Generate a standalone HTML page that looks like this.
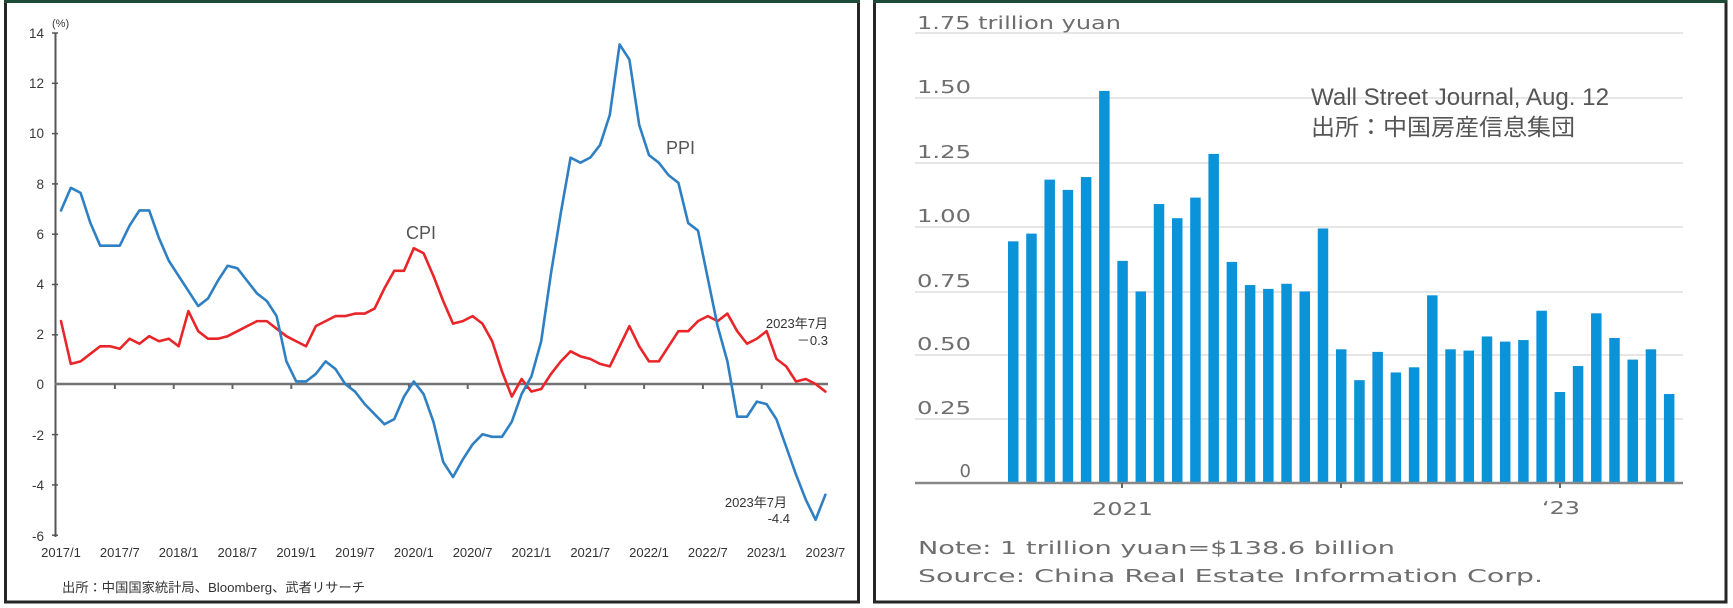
<!DOCTYPE html>
<html><head><meta charset="utf-8"><style>
html,body{margin:0;padding:0;background:#fff;}
svg{display:block;}
</style></head><body>
<svg width="1733" height="608" viewBox="0 0 1733 608" xmlns="http://www.w3.org/2000/svg">
<rect width="1733" height="608" fill="#fff"/>
<!-- LEFT PANEL FRAME -->
<rect x="5.5" y="1.5" width="853" height="600.5" fill="none" stroke="#262626" stroke-width="3"/>
<line x1="4" y1="1.5" x2="860" y2="1.5" stroke="#1d4b37" stroke-width="3"/>
<!-- RIGHT PANEL FRAME -->
<rect x="874.5" y="1.5" width="851.5" height="600.5" fill="none" stroke="#262626" stroke-width="3"/>
<line x1="873" y1="1.5" x2="1727" y2="1.5" stroke="#1d4b37" stroke-width="3"/>

<!-- LEFT CHART -->
<g font-family="'Liberation Sans','Noto Sans CJK JP',sans-serif" fill="#3a3a3a">
  <text x="52" y="27" font-size="11">(%)</text>
  <g font-size="13.5" text-anchor="end">
    <text x="44" y="38">14</text>
    <text x="44" y="88">12</text>
    <text x="44" y="138">10</text>
    <text x="44" y="189">8</text>
    <text x="44" y="239">6</text>
    <text x="44" y="289">4</text>
    <text x="44" y="339">2</text>
    <text x="44" y="389">0</text>
    <text x="44" y="440">-2</text>
    <text x="44" y="490">-4</text>
    <text x="44" y="541">-6</text>
  </g>
  <g font-size="13" text-anchor="middle" fill="#333">
    <text x="61" y="557">2017/1</text>
    <text x="119.8" y="557">2017/7</text>
    <text x="178.6" y="557">2018/1</text>
    <text x="237.4" y="557">2018/7</text>
    <text x="296.2" y="557">2019/1</text>
    <text x="355" y="557">2019/7</text>
    <text x="413.8" y="557">2020/1</text>
    <text x="472.6" y="557">2020/7</text>
    <text x="531.4" y="557">2021/1</text>
    <text x="590.2" y="557">2021/7</text>
    <text x="649" y="557">2022/1</text>
    <text x="707.8" y="557">2022/7</text>
    <text x="766.6" y="557">2023/1</text>
    <text x="825.4" y="557">2023/7</text>
  </g>
  <text x="62" y="592" font-size="13" textLength="303" lengthAdjust="spacingAndGlyphs" fill="#333">出所：中国国家統計局、Bloomberg、武者リサーチ</text>
  <text x="406" y="239" font-size="18" fill="#555">CPI</text>
  <text x="666" y="154" font-size="18" fill="#555">PPI</text>
  <g font-size="13" text-anchor="end" fill="#333">
    <text x="828" y="328">2023年7月</text>
    <text x="828" y="345">－0.3</text>
    <text x="787" y="507">2023年7月</text>
    <text x="790" y="523">-4.4</text>
  </g>
</g>
<!-- axes -->
<line x1="55.5" y1="33" x2="55.5" y2="537" stroke="#555" stroke-width="2"/>
<g stroke="#555" stroke-width="1.5">
  <line x1="52" y1="33" x2="58" y2="33"/><line x1="52" y1="83.3" x2="58" y2="83.3"/>
  <line x1="52" y1="133.6" x2="58" y2="133.6"/><line x1="52" y1="183.9" x2="58" y2="183.9"/>
  <line x1="52" y1="234.2" x2="58" y2="234.2"/><line x1="52" y1="284.5" x2="58" y2="284.5"/>
  <line x1="52" y1="334.8" x2="58" y2="334.8"/><line x1="52" y1="434.6" x2="58" y2="434.6"/>
  <line x1="52" y1="484.9" x2="58" y2="484.9"/><line x1="52" y1="535.2" x2="58" y2="535.2"/>
</g>
<line x1="55" y1="384" x2="828" y2="384" stroke="#737373" stroke-width="2.5"/>
<g stroke="#666" stroke-width="2">
  <line x1="114.9" y1="384" x2="114.9" y2="389"/><line x1="173.7" y1="384" x2="173.7" y2="389"/>
  <line x1="232.5" y1="384" x2="232.5" y2="389"/><line x1="291.3" y1="384" x2="291.3" y2="389"/>
  <line x1="350.1" y1="384" x2="350.1" y2="389"/><line x1="408.9" y1="384" x2="408.9" y2="389"/>
  <line x1="467.7" y1="384" x2="467.7" y2="389"/><line x1="526.5" y1="384" x2="526.5" y2="389"/>
  <line x1="585.3" y1="384" x2="585.3" y2="389"/><line x1="644.1" y1="384" x2="644.1" y2="389"/>
  <line x1="702.9" y1="384" x2="702.9" y2="389"/><line x1="761.7" y1="384" x2="761.7" y2="389"/>
</g>
<g transform="matrix(9.8 0 0 -25.15 61 384)" fill="none" stroke-linejoin="round" stroke-linecap="round">
  <polyline vector-effect="non-scaling-stroke" stroke="#e8262a" stroke-width="2.6" points="0,2.5 1,0.8 2,0.9 3,1.2 4,1.5 5,1.5 6,1.4 7,1.8 8,1.6 9,1.9 10,1.7 11,1.8 12,1.5 13,2.9 14,2.1 15,1.8 16,1.8 17,1.9 18,2.1 19,2.3 20,2.5 21,2.5 22,2.2 23,1.9 24,1.7 25,1.5 26,2.3 27,2.5 28,2.7 29,2.7 30,2.8 31,2.8 32,3.0 33,3.8 34,4.5 35,4.5 36,5.4 37,5.2 38,4.3 39,3.3 40,2.4 41,2.5 42,2.7 43,2.4 44,1.7 45,0.5 46,-0.5 47,0.2 48,-0.3 49,-0.2 50,0.4 51,0.9 52,1.3 53,1.1 54,1.0 55,0.8 56,0.7 57,1.5 58,2.3 59,1.5 60,0.9 61,0.9 62,1.5 63,2.1 64,2.1 65,2.5 66,2.7 67,2.5 68,2.8 69,2.1 70,1.6 71,1.8 72,2.1 73,1.0 74,0.7 75,0.1 76,0.2 77,0.0 78,-0.3"/>
  <polyline vector-effect="non-scaling-stroke" stroke="#2f80c3" stroke-width="2.6" points="0,6.9 1,7.8 2,7.6 3,6.4 4,5.5 5,5.5 6,5.5 7,6.3 8,6.9 9,6.9 10,5.8 11,4.9 12,4.3 13,3.7 14,3.1 15,3.4 16,4.1 17,4.7 18,4.6 19,4.1 20,3.6 21,3.3 22,2.7 23,0.9 24,0.1 25,0.1 26,0.4 27,0.9 28,0.6 29,0.0 30,-0.3 31,-0.8 32,-1.2 33,-1.6 34,-1.4 35,-0.5 36,0.1 37,-0.4 38,-1.5 39,-3.1 40,-3.7 41,-3.0 42,-2.4 43,-2.0 44,-2.1 45,-2.1 46,-1.5 47,-0.4 48,0.3 49,1.7 50,4.4 51,6.8 52,9.0 53,8.8 54,9.0 55,9.5 56,10.7 57,13.5 58,12.9 59,10.3 60,9.1 61,8.8 62,8.3 63,8.0 64,6.4 65,6.1 66,4.2 67,2.3 68,0.9 69,-1.3 70,-1.3 71,-0.7 72,-0.8 73,-1.4 74,-2.5 75,-3.6 76,-4.6 77,-5.4 78,-4.4"/>
</g>

<!-- RIGHT CHART -->
<g stroke="#e6e6e6" stroke-width="2">
  <line x1="915" y1="33" x2="1683" y2="33"/>
  <line x1="915" y1="98" x2="1683" y2="98"/>
  <line x1="915" y1="163" x2="1683" y2="163"/>
  <line x1="915" y1="227" x2="1683" y2="227"/>
  <line x1="915" y1="292" x2="1683" y2="292"/>
  <line x1="915" y1="355" x2="1683" y2="355"/>
  <line x1="915" y1="419" x2="1683" y2="419"/>
</g>
<g transform="matrix(1 0 0 -257.1 1008 483)" fill="#0a93d8">
  <rect x="0" y="0" width="10.5" height="0.94"/>
  <rect x="18.22" y="0" width="10.5" height="0.97"/>
  <rect x="36.44" y="0" width="10.5" height="1.18"/>
  <rect x="54.66" y="0" width="10.5" height="1.14"/>
  <rect x="72.88" y="0" width="10.5" height="1.19"/>
  <rect x="91.1" y="0" width="10.5" height="1.525"/>
  <rect x="109.32" y="0" width="10.5" height="0.864"/>
  <rect x="127.54" y="0" width="10.5" height="0.745"/>
  <rect x="145.76" y="0" width="10.5" height="1.085"/>
  <rect x="163.98" y="0" width="10.5" height="1.03"/>
  <rect x="182.2" y="0" width="10.5" height="1.11"/>
  <rect x="200.42" y="0" width="10.5" height="1.28"/>
  <rect x="218.64" y="0" width="10.5" height="0.86"/>
  <rect x="236.86" y="0" width="10.5" height="0.77"/>
  <rect x="255.08" y="0" width="10.5" height="0.755"/>
  <rect x="273.3" y="0" width="10.5" height="0.775"/>
  <rect x="291.52" y="0" width="10.5" height="0.745"/>
  <rect x="309.74" y="0" width="10.5" height="0.99"/>
  <rect x="327.96" y="0" width="10.5" height="0.52"/>
  <rect x="346.18" y="0" width="10.5" height="0.40"/>
  <rect x="364.4" y="0" width="10.5" height="0.51"/>
  <rect x="382.62" y="0" width="10.5" height="0.43"/>
  <rect x="400.84" y="0" width="10.5" height="0.45"/>
  <rect x="419.06" y="0" width="10.5" height="0.73"/>
  <rect x="437.28" y="0" width="10.5" height="0.52"/>
  <rect x="455.5" y="0" width="10.5" height="0.515"/>
  <rect x="473.72" y="0" width="10.5" height="0.57"/>
  <rect x="491.94" y="0" width="10.5" height="0.55"/>
  <rect x="510.16" y="0" width="10.5" height="0.556"/>
  <rect x="528.38" y="0" width="10.5" height="0.67"/>
  <rect x="546.6" y="0" width="10.5" height="0.354"/>
  <rect x="564.82" y="0" width="10.5" height="0.455"/>
  <rect x="583.04" y="0" width="10.5" height="0.66"/>
  <rect x="601.26" y="0" width="10.5" height="0.564"/>
  <rect x="619.48" y="0" width="10.5" height="0.48"/>
  <rect x="637.7" y="0" width="10.5" height="0.52"/>
  <rect x="655.92" y="0" width="10.5" height="0.346"/>
</g>
<line x1="915" y1="483" x2="1683" y2="483" stroke="#888" stroke-width="2.5"/>
<g stroke="#666" stroke-width="2">
  <line x1="1122" y1="483" x2="1122" y2="488"/>
  <line x1="1341" y1="483" x2="1341" y2="488"/>
  <line x1="1560" y1="483" x2="1560" y2="488"/>
</g>
<g font-family="'DejaVu Sans','Liberation Sans',sans-serif" fill="#6e6e6e" font-size="18">
  <text x="917" y="29" textLength="204" lengthAdjust="spacingAndGlyphs">1.75 trillion yuan</text>
  <g text-anchor="end">
    <text x="971" y="93" textLength="54" lengthAdjust="spacingAndGlyphs">1.50</text>
    <text x="971" y="158" textLength="54" lengthAdjust="spacingAndGlyphs">1.25</text>
    <text x="971" y="222" textLength="54" lengthAdjust="spacingAndGlyphs">1.00</text>
    <text x="971" y="287" textLength="54" lengthAdjust="spacingAndGlyphs">0.75</text>
    <text x="971" y="350" textLength="54" lengthAdjust="spacingAndGlyphs">0.50</text>
    <text x="971" y="414" textLength="54" lengthAdjust="spacingAndGlyphs">0.25</text>
    <text x="971" y="477">0</text>
  </g>
  <text x="1092" y="515" textLength="61" lengthAdjust="spacingAndGlyphs">2021</text>
  <text x="1542" y="514" textLength="38" lengthAdjust="spacingAndGlyphs">‘23</text>
  <text x="918" y="554" textLength="477" lengthAdjust="spacingAndGlyphs">Note: 1 trillion yuan=$138.6 billion</text>
  <text x="918" y="582" textLength="625" lengthAdjust="spacingAndGlyphs">Source: China Real Estate Information Corp.</text>
</g>
<g font-family="'Liberation Sans','Noto Sans CJK JP',sans-serif" fill="#555">
  <text x="1311" y="105" font-size="24" textLength="298" lengthAdjust="spacingAndGlyphs">Wall Street Journal, Aug. 12</text>
  <text x="1311" y="135" font-size="23" textLength="264" lengthAdjust="spacingAndGlyphs">出所：中国房産信息集団</text>
</g>
</svg>
</body></html>
